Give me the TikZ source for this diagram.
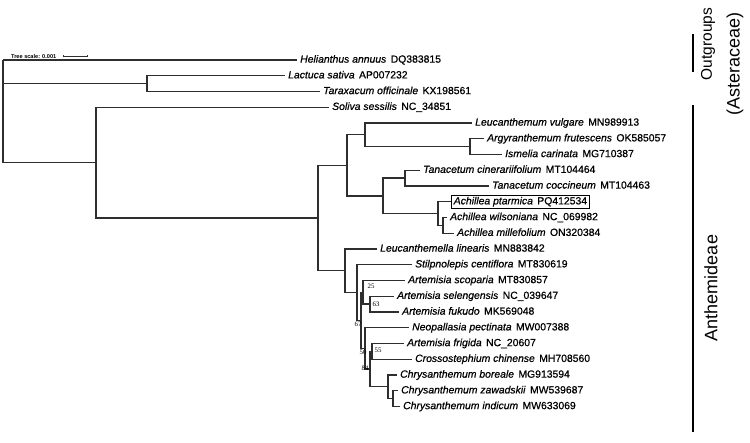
\documentclass[tikz,border=0pt]{standalone}
\usepackage{fontspec}
\setmainfont{Liberation Sans}
\newfontfamily\lblfont[FakeBold=0.7]{Liberation Sans}
\newfontfamily\bsfont{Liberation Serif}
\definecolor{brc}{HTML}{2E2E2E}
\newcommand\lf[2]{\textit{#1}\hspace{0.42em}#2}
\tikzset{
  branch/.style={draw=brc, line width=1.35pt, line join=miter},
  leaf/.style={anchor=west, inner xsep=3pt, inner ysep=0pt, text height=7.6pt, text depth=2.3pt, font=\lblfont\fontsize{10.4}{12}\selectfont},
  boxed/.style={leaf, draw=black, line width=0.8pt, inner xsep=2.4pt, inner ysep=1.2pt},
  bs/.style={inner sep=0pt, font=\bsfont\fontsize{6.8}{7}\selectfont},
  grp/.style={rotate=90, inner sep=0pt, font=\fontsize{18}{20}\selectfont},
  bar/.style={draw=black, line width=1.4pt}
}
\begin{document}
\begin{tikzpicture}[x=1pt, y=-1pt]
\useasboundingbox (0,0) rectangle (750,442);
% scale
\node[anchor=west, inner sep=0pt, font=\bfseries\fontsize{5.6}{6}\selectfont] (ts) at (11,56) {Tree scale: 0.001};
\coordinate (sa) at (63,56);
\coordinate (sb) at (87,56);
\draw[brc, line width=0.7pt] (sa) -- (sb);
\draw[brc, line width=0.6pt] ([yshift=-1.3pt]sa) -- ([yshift=1.3pt]sa) ([yshift=-1.3pt]sb) -- ([yshift=1.3pt]sb);
% internal nodes
\coordinate (root) at (3,60);
\coordinate (nlt) at (147,83.625);
\coordinate (n95) at (96,162.65);
\coordinate (n318) at (318,218.05);
\coordinate (n347) at (347,165.33);
\coordinate (n365) at (365,134.81);
\coordinate (n470) at (470,146.625);
\coordinate (n383) at (383,195.84);
\coordinate (n405) at (405,178.125);
\coordinate (n440) at (438,213.56);
\coordinate (n443) at (443,225.375);
\coordinate (n345) at (345,270.78);
\coordinate (n357) at (357,292.56);
\coordinate (n67) at (361,320.37);
\coordinate (n25) at (363,292.31);
\coordinate (n63) at (370,304.125);
\coordinate (n50) at (365,348.42);
\coordinate (n84) at (370,369.09);
\coordinate (n55) at (372,351.375);
\coordinate (nch) at (388,386.81);
\coordinate (nzw) at (393,398.625);
% leaves
\node[leaf] (l1) at (297,60) {\lf{Helianthus annuus}{DQ383815}};
\node[leaf] (l2) at (285,75.75) {\lf{Lactuca sativa}{AP007232}};
\node[leaf] (l3) at (320,91.5) {\lf{Taraxacum officinale}{KX198561}};
\node[leaf] (l4) at (329,107.25) {\lf{Soliva sessilis}{NC\_34851}};
\node[leaf] (l5) at (472,123) {\lf{Leucanthemum vulgare}{MN989913}};
\node[leaf] (l6) at (484,138.75) {\lf{Argyranthemum frutescens}{OK585057}};
\node[leaf] (l7) at (502,154.5) {\lf{Ismelia carinata}{MG710387}};
\node[leaf] (l8) at (420,170.25) {\lf{Tanacetum cinerariifolium}{MT104464}};
\node[leaf] (l9) at (489,186) {\lf{Tanacetum coccineum}{MT104463}};
\node[boxed] (l10) at (451,201.75) {\lf{Achillea ptarmica}{PQ412534}};
\node[leaf] (l11) at (447,217.5) {\lf{Achillea wilsoniana}{NC\_069982}};
\node[leaf] (l12) at (454,233.25) {\lf{Achillea millefolium}{ON320384}};
\node[leaf] (l13) at (377,249) {\lf{Leucanthemella linearis}{MN883842}};
\node[leaf] (l14) at (412,264.75) {\lf{Stilpnolepis centiflora}{MT830619}};
\node[leaf] (l15) at (405,280.5) {\lf{Artemisia scoparia}{MT830857}};
\node[leaf] (l16) at (394,296.25) {\lf{Artemisia selengensis}{NC\_039647}};
\node[leaf] (l17) at (399,312) {\lf{Artemisia fukudo}{MK569048}};
\node[leaf] (l18) at (409,327.75) {\lf{Neopallasia pectinata}{MW007388}};
\node[leaf] (l19) at (404,343.5) {\lf{Artemisia frigida}{NC\_20607}};
\node[leaf] (l20) at (412,359.25) {\lf{Crossostephium chinense}{MH708560}};
\node[leaf] (l21) at (397,375) {\lf{Chrysanthemum boreale}{MG913594}};
\node[leaf] (l22) at (398,390.75) {\lf{Chrysanthemum zawadskii}{MW539687}};
\node[leaf] (l23) at (400,406.5) {\lf{Chrysanthemum indicum}{MW633069}};
% branches
\draw[branch] (root) |- (l1.west);
\draw[branch] (root) |- (nlt);
\draw[branch] (root) |- (n95);
\draw[branch] (nlt) |- (l2.west);
\draw[branch] (nlt) |- (l3.west);
\draw[branch] (n95) |- (l4.west);
\draw[branch] (n95) |- (n318);
\draw[branch] (n318) |- (n347);
\draw[branch] (n318) |- (n345);
\draw[branch] (n347) |- (n365);
\draw[branch] (n347) |- (n383);
\draw[branch] (n365) |- (l5.west);
\draw[branch] (n365) |- (n470);
\draw[branch] (n470) |- (l6.west);
\draw[branch] (n470) |- (l7.west);
\draw[branch] (n383) |- (n405);
\draw[branch] (n383) |- (n440);
\draw[branch] (n405) |- (l8.west);
\draw[branch] (n405) |- (l9.west);
\draw[branch] (n440) |- (l10.west);
\draw[branch] (n440) |- (n443);
\draw[branch] (n443) |- (l11.west);
\draw[branch] (n443) |- (l12.west);
\draw[branch] (n345) |- (l13.west);
\draw[branch] (n345) |- (n357);
\draw[branch] (n357) |- (l14.west);
\draw[branch] (n357) |- (n67);
\draw[branch] (n67) |- (n25);
\draw[branch] (n67) |- (n50);
\draw[branch] (n25) |- (l15.west);
\draw[branch] (n25) |- (n63);
\draw[branch] (n63) |- (l16.west);
\draw[branch] (n63) |- (l17.west);
\draw[branch] (n50) |- (l18.west);
\draw[branch] (n50) |- (n84);
\draw[branch] (n84) |- (n55);
\draw[branch] (n84) |- (nch);
\draw[branch] (n55) |- (l19.west);
\draw[branch] (n55) |- (l20.west);
\draw[branch] (nch) |- (l21.west);
\draw[branch] (nch) |- (nzw);
\draw[branch] (nzw) |- (l22.west);
\draw[branch] (nzw) |- (l23.west);
% bootstrap values
\node[bs] (b25) at (371,286) {25};
\node[bs] (b63) at (376,304) {63};
\node[bs] (b67) at (358,324) {67};
\node[bs] (b50) at (363,352) {50};
\node[bs] (b55) at (378,350) {55};
\node[bs] (b84) at (365,368) {84};
% groups
\coordinate (ga) at (693,34);
\coordinate (gb) at (693,72);
\coordinate (gc) at (693,105);
\coordinate (gd) at (693,432);
\draw[bar] (ga) -- (gb);
\draw[bar] (gc) -- (gd);
\node[grp, font=\fontsize{15.5}{17}\selectfont] (g1) at (708,44) {Outgroups};
\node[grp] (g2) at (735,64) {(Asteraceae)};
\node[grp] (g3) at (711,288) {Anthemideae};
\end{tikzpicture}
\end{document}
